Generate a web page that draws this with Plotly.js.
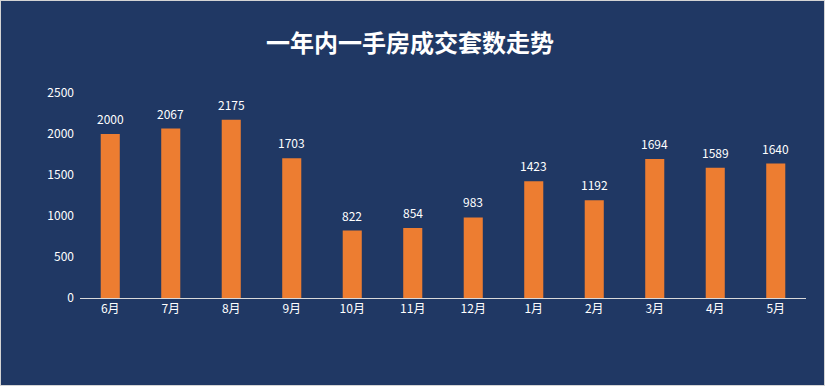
<!DOCTYPE html>
<html><head><meta charset="utf-8">
<script src="https://cdn.plot.ly/plotly-3.0.1.min.js"></script>
<style>
html,body{margin:0;padding:0;background:#fff;}
#wrap{width:825px;height:386px;box-sizing:border-box;border:1px solid #d4d4d4;background:#203864;}
#chart{width:823px;height:384px;}
</style></head>
<body><div id="wrap"><div id="chart"></div></div>
<script>
const months = ["6月","7月","8月","9月","10月","11月","12月","1月","2月","3月","4月","5月"];
const deals = [2000,2067,2175,1703,822,854,983,1423,1192,1694,1589,1640];
const yTicks = [0,500,1000,1500,2000,2500];

const font = '"Noto Sans CJK SC", "Microsoft YaHei", sans-serif';
const labels = months.map((m,i)=>({
  x:m, y:deals[i], xref:'x', yref:'y', text:String(deals[i]), showarrow:false,
  yanchor:'bottom', yshift:5, font:{size:12, color:'#ffffff', family:font}
}));
Plotly.newPlot('chart', [{
  type:'bar', x:months, y:deals,
  marker:{color:'#ed7d31'},
  hoverinfo:'none'
}], {
  width:823, height:384,
  paper_bgcolor:'#203864', plot_bgcolor:'#203864',
  margin:{l:79, r:18, t:92, b:87},
  bargap:0.685,
  font:{family:font, color:'#ffffff'},
  title:{text:'<b>一年内一手房成交套数走势</b>', x:0.497, xanchor:'center', y:0.89, yanchor:'middle',
         font:{size:24, color:'#ffffff', family:font}},
  xaxis:{showgrid:false, showline:true, linecolor:'#d9d9d9', linewidth:1, ticks:'',
         tickfont:{size:12, color:'#ffffff', family:font}, fixedrange:true},
  yaxis:{range:[0,2500], tickvals:yTicks, showgrid:false, zeroline:false, showline:false,
         ticks:'', ticklen:0, ticklabelstandoff:5, tickfont:{size:12, color:'#ffffff', family:font}, fixedrange:true},
  annotations:labels,
  showlegend:false
}, {displayModeBar:false, staticPlot:true});
</script></body></html>
